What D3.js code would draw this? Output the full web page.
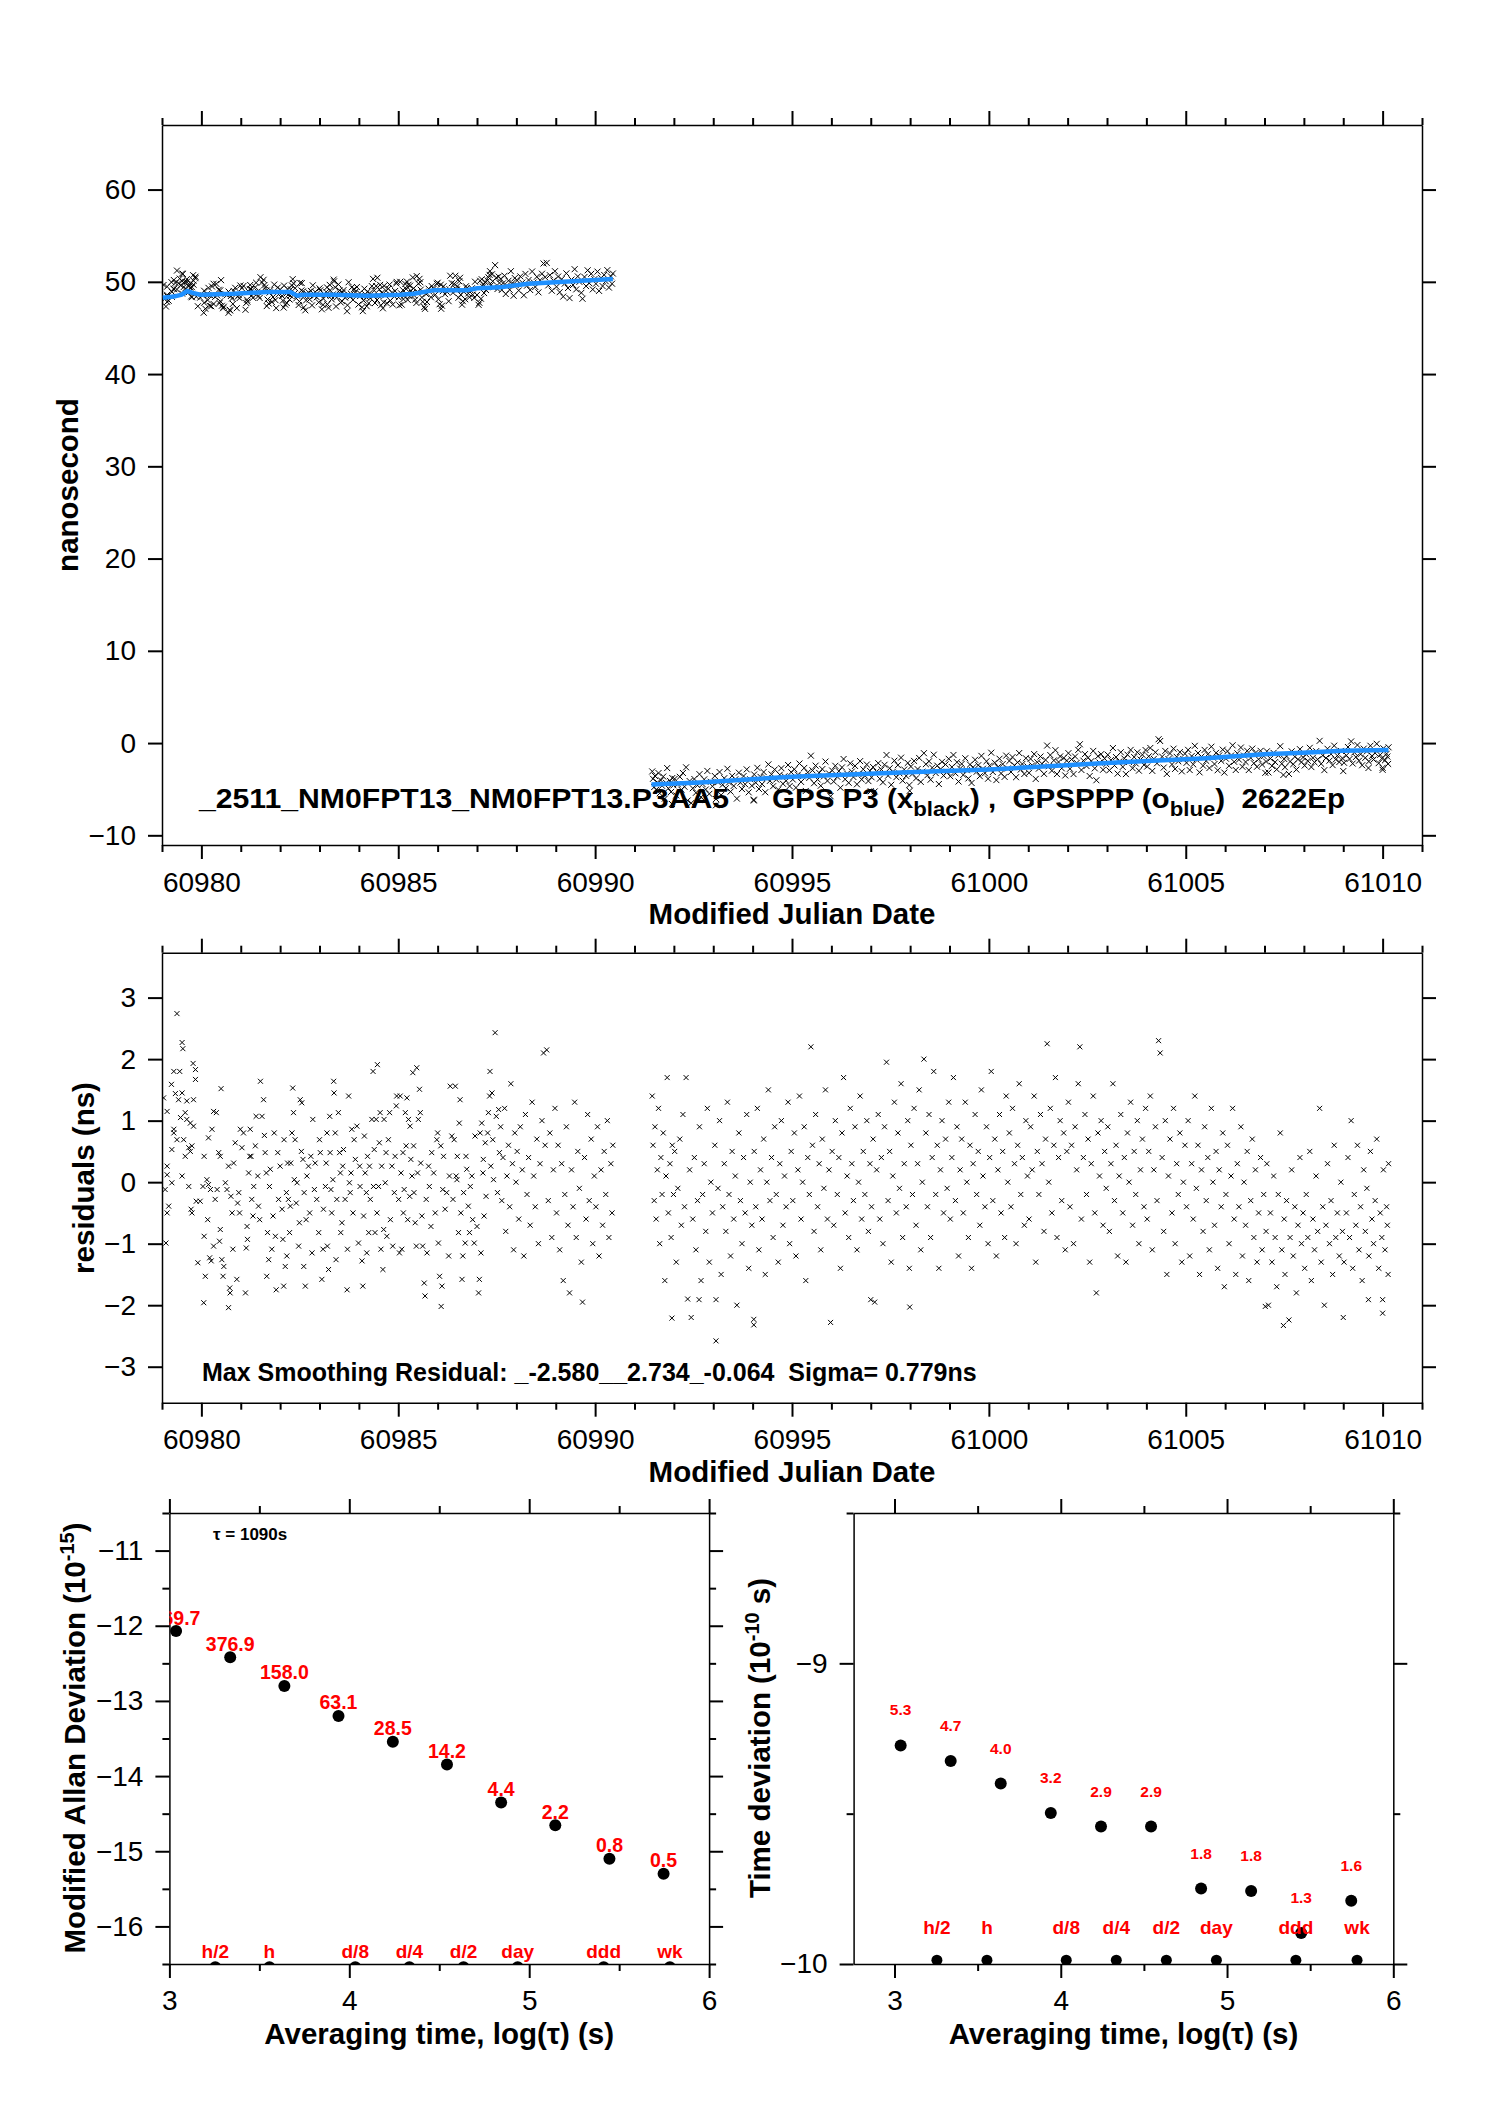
<!DOCTYPE html>
<meta charset="utf-8">
<script src="https://d3js.org/d3.v7.min.js"></script>
<style>
  body { margin: 0; background: #fff; }
  text { font-family: "Liberation Sans", Arial, Helvetica, sans-serif; }
</style>
<svg id="chart" width="1488" height="2105"></svg>
<script>

// ---------- data ----------
const MJD0 = 60900;   // residual times below are MJD - 60900

// GPSPPP smoothing curve (blue), [MJD, ns]
const smoothA = [[60979.02,48.28],[60979.3,48.4],[60979.5,48.6],[60979.64,49.0],[60979.78,48.8],[60979.97,48.6],
  [60980.82,48.7],[60981.67,48.9],[60982.26,48.9],[60982.43,48.5],[60982.6,48.6],[60983.36,48.6],[60984.2,48.5],
  [60985.05,48.6],[60985.4,48.7],[60985.9,49.1],[60986.74,49.1],[60987.0,49.3],[60987.59,49.4],[60988.3,49.8],
  [60989.2,50.0],[60990.45,50.3]];
const smoothB = [[60991.43,-4.48],[60992.66,-4.27],[60995.0,-3.65],[60997.77,-3.18],[61000.0,-2.86],[61002.87,-2.2],
  [61004.14,-1.92],[61005.42,-1.66],[61007.08,-1.19],[61007.97,-1.05],[61008.98,-0.84],[61010.15,-0.76]];

// residuals (GPS P3 minus smoothing), [MJD-60900, ns]
const residA = [
  [79.10,-0.99],[79.04,1.37],[79.13,1.15],[79.08,-0.12],[79.13,0.26],[79.17,-0.39],[79.13,-0.5],[79.24,1.59],[79.30,1.8],
  [79.38,2.74],[79.45,1.8],[79.51,2.27],[79.53,2.17],[79.30,0.8],[79.25,0.53],[79.30,0.86],[79.34,1.44],[79.38,0.69],
  [79.42,1.34],[79.47,1.05],[79.51,1.45],[79.55,0.69],[79.59,1.13],[79.59,0.42],[79.63,1.32],[79.63,1.02],[79.68,0.56],
  [79.72,0.5],[79.79,1.93],[79.85,1.83],[79.85,1.67],[79.76,0.59],[79.80,1.34],[79.72,0.96],[79.51,0.1],[79.25,-0.01],
  [79.13,0.12],[79.68,-0.07],[79.74,-0.44],[79.76,-0.5],[79.87,-0.31],[79.91,-1.31],[79.97,-0.31],[79.80,0.91],
  [80.06,-1.96],[80.07,-0.88],[80.10,-1.53],[80.04,-0.07],[80.14,0.04],[80.18,-0.04],[80.23,-0.12],[80.07,0.42],
  [80.18,0.72],[80.27,0.86],[80.31,1.15],[80.38,1.13],[80.16,-0.61],[80.21,-1.23],[80.25,-1.28],[80.31,-1.04],
  [80.35,-0.28],[80.40,-0.12],[80.44,0.48],[80.48,0.42],[80.50,1.52],[80.48,-0.77],[80.46,-0.96],[80.52,-1.26],
  [80.55,-1.53],[80.57,-1.37],[80.69,-2.04],[80.61,-0.01],[80.65,-0.12],[80.69,0.26],[80.72,-1.72],[80.73,-1.8],
  [80.75,-0.23],[80.78,-0.5],[80.80,-1.09],[80.82,0.31],
  [80.86,0.64],[80.90,-1.58],[80.92,-0.34],[80.95,-0.17],[80.97,-0.5],[80.99,0.86],[81.03,0.56],[81.07,0.8],[81.12,-1.8],
  [81.14,-1.07],[81.16,-0.72],[81.17,-0.93],[81.20,0.15],[81.23,0.42],[81.24,0.86],[81.26,0.42],[81.28,-0.28],
  [81.31,-0.55],[81.33,-0.07],[81.37,0.59],[81.39,1.07],[81.43,0.1],[81.45,-0.39],[81.48,-0.61],[81.50,1.64],
  [81.54,1.07],[81.58,1.34],[81.60,0.76],[81.62,0.48],[81.65,0.15],[81.66,-1.53],[81.68,-0.82],[81.71,-1.26],
  [81.73,-0.07],[81.75,0.21],[81.79,-1.09],[81.82,-0.55],
  [81.85,0.8],[81.88,-0.88],[81.90,-1.75],[81.94,0.48],[81.96,-0.28],[82.00,0.26],[82.05,-0.44],[82.07,-0.93],
  [82.09,-1.69],[82.10,0.69],[82.13,-1.37],[82.16,-0.17],[82.17,-1.2],[82.19,0.31],[82.21,-0.28],[82.24,-0.82],
  [82.26,-0.39],[82.27,0.31],[82.30,0.8],[82.32,1.53],[82.34,1.13],[82.36,0.04],[82.38,0.69],[82.41,-0.34],
  [82.43,-0.01],[82.47,-1.04],[82.49,-0.66],[82.51,1.34],[82.54,0.5],[82.55,1.29],[82.58,0.37],[82.60,-1.37],
  [82.61,-0.17],[82.64,-1.69],[82.66,-0.61],[82.68,0.1],[82.72,0.26],[82.75,-0.5],[82.78,0.42],[82.81,-1.15],[82.83,1.02],
  [82.87,-0.12],[82.89,0.31],[82.93,-0.28],[82.98,-0.82],[83.00,0.69],[83.02,0.48],[83.06,-1.58],[83.09,-1.09],
  [83.10,-0.44],[83.15,-0.07],[83.17,0.31],[83.19,0.8],[83.20,-1.04],[83.23,-1.42],[83.26,1.07],[83.27,0.48],
  [83.29,-0.12],[83.31,-0.5],[83.34,0.04],[83.36,1.64],[83.37,1.45],[83.40,0.8],[83.42,-1.26],[83.44,-0.28],
  [83.48,1.13],[83.51,0.48],[83.53,0.15],[83.54,-0.82],[83.57,-0.66],[83.59,0.26],[83.61,0.53],[83.65,-0.28],
  [83.70,-1.75],[83.71,-1.09],[83.74,1.4],[83.76,-0.01],[83.78,-0.17],[83.80,0.15],[83.82,0.86],[83.85,-0.5],
  [83.88,0.69],[83.91,0.37],[83.95,0.91],[83.99,-0.99],[84.02,0.26],[84.03,-0.07],[84.08,-1.28],[84.10,-1.69],
  [84.12,-0.55],[84.14,0.75],[84.16,0.15],[84.19,-0.17],[84.20,-1.15],[84.22,0.42],[84.25,-0.82],[84.27,0.26],
  [84.29,-0.28],[84.33,1.02],[84.36,1.8],[84.37,-0.07],[84.39,0.53],[84.41,-0.82],[84.44,1.02],[84.46,-0.5],
  [84.47,1.91],[84.50,-0.07],[84.52,0.64],[84.54,1.13],[84.56,-1.09],[84.58,0.26],[84.61,-1.42],[84.63,-0.77],
  [84.64,1.02],[84.67,-0.01],[84.69,0.48],[84.71,-0.88],[84.75,0.69],[84.78,1.13],[84.80,-0.61],[84.84,0.26],[84.86,-1.04],
  [84.90,-0.17],[84.92,0.42],[84.95,1.24],[84.96,1.4],[85.01,-0.28],[85.03,-1.15],[85.05,1.4],[85.07,0.15],
  [85.09,-1.09],[85.12,0.48],[85.13,-0.5],[85.15,-0.12],[85.18,1.13],[85.20,0.59],[85.22,1.37],[85.24,-0.61],
  [85.26,1.02],[85.29,-0.23],[85.30,0.91],[85.32,0.37],[85.35,0.1],[85.37,1.78],[85.39,0.59],[85.40,-0.17],
  [85.43,-0.66],[85.46,-1.04],[85.47,1.86],[85.49,0.15],[85.51,1.02],[85.54,1.51],[85.56,1.13],[85.57,0.31],
  [85.60,-0.55],[85.62,-1.04],[85.66,-1.64],[85.68,-1.85],[85.71,-0.28],[85.73,-1.15],[85.77,0.26],[85.79,-0.07],
  [85.83,-0.72],[85.85,0.48],
  [85.90,0.15],[85.94,-0.5],[85.98,0.69],[86.00,0.8],[86.02,-0.99],[86.05,-1.53],[86.09,-2.02],[86.08,0.59],
  [86.11,-1.69],[86.13,-0.12],[86.15,0.42],[86.19,-0.44],[86.23,-0.17],[86.28,-1.2],[86.30,0.1],[86.32,1.56],
  [86.36,0.75],[86.39,-0.28],[86.42,0.69],[86.45,1.56],[86.47,0.1],[86.49,0.04],[86.50,0.42],[86.53,-0.82],
  [86.55,0.96],[86.57,1.34],[86.59,-0.5],[86.62,-1.58],[86.64,-1.2],[86.66,-0.17],[86.70,-0.99],[86.72,0.42],
  [86.74,0.21],[86.78,-0.39],[86.81,-0.82],[86.83,-0.07],[86.87,0.1],[86.89,-0.61],
  [86.93,-0.99],[86.95,0.75],[87.00,-0.72],[87.04,-1.8],[87.06,-1.58],[87.08,0.8],[87.10,-1.15],[87.12,0.96],
  [87.15,0.15],[87.16,0.37],[87.18,-0.55],[87.21,0.64],[87.23,-0.23],[87.27,0.8],[87.29,1.13],[87.32,1.4],
  [87.33,1.8],[87.35,0.26],[87.38,1.45],[87.40,0.69],[87.42,0.04],[87.46,2.43],[87.49,1.07],[87.52,-0.17],
  [87.55,1.18],[87.57,0.48],
  [87.60,0.9],[87.63,-0.3],[87.66,0.4],[87.70,1.2],[87.73,-0.8],[87.76,0.1],[87.80,0.6],[87.83,-0.4],[87.86,1.6],
  [87.90,0.3],[87.93,-1.1],[87.96,0.8],[87.99,0.0],
  [88.02,0.5],[88.06,-0.6],[88.10,0.9],[88.15,0.2],[88.19,-1.2],[88.23,1.1],[88.27,-0.2],[88.31,0.4],[88.35,-0.7],
  [88.40,1.3],[88.44,0.1],[88.48,-0.4],[88.52,0.7],[88.56,-1.0],[88.60,0.3],[88.65,1.0],[88.69,2.1],[88.73,0.6],
  [88.77,2.15],[88.81,-0.3],[88.85,0.8],[88.90,-0.9],[88.94,0.2],[88.98,1.2],
  [89.02,-0.5],[89.06,0.6],[89.10,-1.1],[89.15,0.3],[89.19,-1.6],[89.23,-0.2],[89.27,0.9],[89.31,-0.7],[89.35,-1.8],
  [89.40,0.2],[89.44,-0.4],[89.48,1.3],[89.52,-0.9],[89.56,0.5],[89.60,-0.1],[89.65,-1.3],[89.68,-1.95],[89.73,0.4],
  [89.77,-0.6],[89.81,1.1],[89.85,-0.3],[89.90,0.7],[89.94,-1.0],[89.98,0.1],
  [90.02,-0.4],[90.06,0.9],[90.10,-1.2],[90.15,0.2],[90.19,-0.7],[90.23,0.5],[90.27,-0.2],[90.31,1.0],[90.35,-0.9],
  [90.40,0.3],[90.43,-0.5],[90.45,0.6]
];
const residB = [
  [91.45,1.4],[91.47,0.6],[91.50,-0.3],[91.52,0.9],[91.55,-0.6],[91.58,0.2],[91.61,1.2],[91.64,-1.0],[91.67,0.4],
  [91.70,-0.2],[91.73,0.8],[91.77,-1.6],[91.80,0.1],[91.83,1.7],[91.86,-0.5],[91.90,0.3],[91.93,-0.9],[91.95,-2.21],
  [91.96,0.6],[91.99,-0.2],
  [92.02,0.5],[92.06,-1.3],[92.10,-0.1],[92.15,0.7],[92.19,-0.7],[92.23,1.1],[92.27,-0.4],[92.31,1.7],[92.35,-1.9],
  [92.40,0.2],[92.44,-2.2],[92.48,-0.6],[92.52,0.4],[92.56,-1.1],[92.60,-0.3],[92.64,-1.91],[92.65,0.9],[92.69,-1.6],
  [92.73,-0.2],[92.77,0.3],[92.81,-0.8],[92.85,1.2],[92.90,-1.3],[92.94,0.0],[92.98,-0.5],
  [93.04,0.6],[93.07,-2.58],[93.07,-1.91],[93.12,-0.1],[93.16,1.0],[93.20,-1.5],[93.24,-0.4],[93.28,0.3],[93.32,-0.8],
  [93.36,1.3],[93.40,-0.2],[93.44,-1.2],[93.48,0.5],[93.52,-0.6],[93.56,0.1],[93.60,-2.0],[93.65,0.8],[93.69,-0.3],
  [93.73,-1.0],[93.77,0.4],[93.81,-0.5],[93.85,1.1],[93.90,-1.4],[93.94,0.0],[93.98,-0.7],
  [94.03,-2.32],[94.03,-2.23],[94.04,0.5],[94.08,-0.4],[94.12,1.2],[94.16,-1.1],[94.20,0.2],[94.24,-0.6],[94.28,0.7],
  [94.32,-1.5],[94.36,0.0],[94.40,1.5],[94.44,-0.3],[94.48,0.4],[94.52,-0.9],[94.56,0.9],[94.60,-0.2],[94.65,-1.3],
  [94.69,0.3],[94.73,1.0],[94.77,-0.7],[94.81,0.1],[94.85,-0.4],[94.90,1.3],[94.94,-1.0],[94.98,0.5],
  [95.02,-0.3],[95.06,0.8],[95.10,-1.2],[95.15,0.2],[95.19,1.4],[95.23,-0.6],[95.27,0.0],[95.31,0.9],[95.35,-1.6],
  [95.40,0.4],[95.44,-0.2],[95.48,2.2],[95.52,0.6],[95.56,-0.8],[95.60,1.1],[95.65,-0.4],[95.69,0.3],[95.73,-1.1],
  [95.77,0.7],[95.81,-0.1],[95.85,1.5],[95.90,-0.6],[95.94,0.2],[95.98,-2.28],
  [96.02,0.5],[96.06,-0.7],[96.10,1.0],[96.15,-0.2],[96.19,0.4],[96.23,-1.4],[96.27,0.8],[96.31,1.7],[96.35,-0.5],
  [96.40,0.1],[96.44,-0.9],[96.48,1.2],[96.52,0.3],[96.56,-0.3],[96.60,0.9],[96.65,-1.1],[96.69,0.0],[96.73,1.4],
  [96.77,-0.6],[96.81,0.5],[96.85,-0.2],[96.90,1.0],[96.94,-0.8],[96.98,0.3],
  [97.00,-1.91],[97.02,-0.4],[97.06,0.7],[97.10,-1.95],[97.15,0.2],[97.19,1.1],[97.23,-0.6],[97.27,0.4],[97.31,-1.0],
  [97.35,0.9],[97.40,1.95],[97.44,-0.3],[97.48,0.5],[97.52,-1.3],[97.56,0.1],[97.60,1.3],[97.65,-0.5],[97.69,0.8],
  [97.73,-0.1],[97.77,1.6],[97.81,-0.9],[97.85,0.3],[97.90,-0.4],[97.94,1.0],[97.98,-1.4],[97.99,-2.03],
  [98.02,0.6],[98.06,-0.2],[98.10,1.2],[98.15,-0.7],[98.19,0.3],[98.23,1.5],[98.27,-1.1],[98.31,0.0],[98.35,2.0],
  [98.40,0.8],[98.44,-0.4],[98.48,1.1],[98.52,-0.9],[98.56,0.4],[98.60,1.8],[98.65,-0.2],[98.69,0.6],[98.73,-1.4],
  [98.77,0.2],[98.81,1.0],[98.85,-0.5],[98.90,0.7],[98.94,-0.1],[98.98,1.3],
  [99.02,-0.6],[99.06,0.4],[99.10,1.7],[99.15,-0.3],[99.19,0.9],[99.23,-1.2],[99.27,0.2],[99.31,0.7],[99.35,-0.5],
  [99.40,1.3],[99.44,0.0],[99.48,-0.9],[99.52,0.6],[99.56,-1.4],[99.60,0.3],[99.65,1.1],[99.69,-0.2],[99.73,0.5],
  [99.77,-0.7],[99.81,1.5],[99.85,0.1],[99.90,-0.4],[99.94,0.9],[99.98,-1.0],
  [100.02,0.4],[100.06,1.8],[100.10,-0.3],[100.15,0.7],[100.19,-1.2],[100.23,0.2],[100.27,1.1],[100.31,-0.5],
  [100.35,0.5],[100.40,-0.9],[100.44,1.4],[100.48,0.0],[100.52,0.8],[100.56,-0.4],[100.60,1.2],[100.65,0.3],
  [100.69,-1.0],[100.73,0.6],[100.77,1.6],[100.81,-0.2],[100.85,0.4],[100.90,-0.7],[100.94,1.0],[100.98,0.1],
  [101.02,-0.6],[101.06,0.9],[101.10,0.2],[101.15,1.4],[101.19,-1.3],[101.23,0.5],[101.27,-0.2],[101.31,1.1],
  [101.35,0.3],[101.40,-0.8],[101.44,0.7],[101.48,2.25],[101.52,0.0],[101.56,1.2],[101.60,-0.5],[101.65,0.6],
  [101.69,1.7],[101.73,-0.9],[101.77,0.4],[101.81,1.0],[101.85,-0.3],[101.90,0.8],[101.94,-1.1],[101.98,0.5],
  [102.02,1.3],[102.06,-0.4],[102.10,0.6],[102.15,-1.0],[102.19,0.9],[102.23,0.2],[102.27,1.6],[102.31,2.2],
  [102.35,-0.6],[102.40,0.4],[102.44,1.1],[102.48,-0.2],[102.52,0.7],[102.56,-1.3],[102.60,0.3],[102.65,1.4],
  [102.69,-0.5],[102.73,-1.8],[102.77,0.8],[102.81,0.1],[102.85,1.0],[102.90,-0.7],[102.94,0.5],[102.98,-0.1],
  [103.02,0.9],[103.06,-0.8],[103.10,0.3],[103.15,1.6],[103.19,-0.3],[103.23,0.6],[103.27,-1.2],[103.31,0.1],
  [103.35,1.1],[103.40,-0.5],[103.44,0.4],[103.48,-1.3],[103.52,0.8],[103.56,0.0],[103.60,1.3],[103.65,-0.7],
  [103.69,0.5],[103.73,-0.2],[103.77,1.0],[103.81,-1.0],[103.85,0.2],[103.90,0.7],[103.94,-0.4],[103.98,1.2],
  [104.02,-0.6],[104.06,0.5],[104.10,1.4],[104.15,-1.1],[104.19,0.2],[104.23,0.9],[104.27,-0.3],[104.31,2.3],
  [104.35,2.1],[104.40,0.4],[104.44,-0.8],[104.48,1.0],[104.52,-1.5],[104.56,0.1],[104.60,0.7],[104.65,-0.5],
  [104.69,1.2],[104.73,-1.0],[104.77,0.3],[104.81,-0.2],[104.85,0.8],[104.90,-1.3],[104.94,0.0],[104.98,0.6],
  [105.02,-0.4],[105.06,1.0],[105.10,-1.2],[105.15,0.3],[105.19,-0.6],[105.23,1.4],[105.27,-0.1],[105.31,0.6],
  [105.35,-1.5],[105.40,0.2],[105.44,-0.8],[105.48,0.9],[105.52,-0.3],[105.56,0.4],[105.60,-1.1],[105.65,1.2],
  [105.69,0.0],[105.73,-0.7],[105.77,0.5],[105.81,-1.4],[105.85,0.2],[105.90,-0.4],[105.94,0.8],[105.98,-1.7],
  [106.02,-0.2],[106.06,0.6],[106.10,-1.0],[106.15,0.1],[106.19,1.2],[106.23,-0.6],[106.27,-1.5],[106.31,0.3],
  [106.35,-0.4],[106.40,0.9],[106.44,-1.2],[106.48,0.0],[106.52,-0.7],[106.56,0.5],[106.60,-1.6],[106.65,-0.3],
  [106.69,0.7],[106.73,-0.9],[106.77,0.2],[106.81,-1.3],[106.85,-0.5],[106.90,0.4],[106.94,-1.1],[106.98,-0.2],
  [107.02,-2.02],[107.04,-0.8],[107.06,0.3],[107.10,-2.0],[107.15,-0.5],[107.19,-1.3],[107.23,0.1],[107.27,-0.9],
  [107.31,-1.7],[107.35,-0.2],[107.40,0.8],[107.44,-1.1],[107.48,-2.33],[107.50,-0.6],[107.52,-1.5],[107.56,-0.3],
  [107.62,-2.24],[107.65,-0.9],[107.69,0.2],[107.73,-1.2],[107.77,-0.4],[107.81,-1.8],[107.85,-0.7],[107.90,0.4],
  [107.94,-1.0],[107.98,-0.5],
  [108.02,-1.4],[108.06,-0.2],[108.10,-0.9],[108.15,0.5],[108.19,-1.6],[108.23,-0.6],[108.27,-1.1],[108.31,0.1],
  [108.35,-0.8],[108.40,1.2],[108.44,-1.3],[108.48,-0.4],[108.52,-2.0],[108.56,-0.7],[108.60,0.3],[108.65,-1.0],
  [108.69,-0.3],[108.73,-1.5],[108.77,0.6],[108.81,-0.9],[108.85,-0.5],[108.90,-1.2],[108.94,0.0],[108.98,-0.8],
  [109.00,-2.2],[109.02,-1.3],[109.08,-0.5],[109.12,0.4],[109.16,-0.9],[109.20,1.0],[109.24,-1.4],[109.28,-0.2],
  [109.32,-0.7],[109.36,0.6],[109.40,-1.1],[109.44,-0.4],[109.48,-1.6],[109.52,0.2],[109.56,-0.8],[109.60,-0.1],
  [109.64,-1.91],[109.65,-1.2],[109.69,0.5],[109.73,-0.6],[109.77,-1.0],[109.81,-0.3],[109.85,0.7],[109.90,-1.4],
  [109.94,-0.5],[109.98,-0.9],
  [110.00,-2.13],[110.00,-1.91],[110.02,0.2],[110.06,-1.1],[110.10,-0.4],[110.12,-0.7],[110.14,-1.5],[110.15,0.3]
];

// stability panels: x = log10(tau)
const tauLog    = [3.037, 3.338, 3.639, 3.940, 4.242, 4.543, 4.844, 5.145, 5.446, 5.747];
const mdevLog   = [-12.07, -12.42, -12.80, -13.20, -13.543, -13.845, -14.35, -14.655, -15.10, -15.30];
const mdevLabel = ["869.7", "376.9", "158.0", "63.1", "28.5", "14.2", "4.4", "2.2", "0.8", "0.5"];
const tdevLog   = [-9.273, -9.325, -9.40, -9.498, -9.543, -9.543, -9.749, -9.757, -9.897, -9.79];
const tdevLabel = ["5.3", "4.7", "4.0", "3.2", "2.9", "2.9", "1.8", "1.8", "1.3", "1.6"];
const spanName  = ["h/2", "h", "d/8", "d/4", "d/2", "day", "ddd", "wk"];
const spanLog   = [3.255, 3.556, 4.033, 4.334, 4.635, 4.936, 5.414, 5.782];

// ---------- drawing ----------
const svg = d3.select("#chart");
const RED = "#ff0000", BLUE = "#1e90ff";

function frame(x, y, o) {
  const [x0, x1] = x.range(), [y0, y1] = y.range();
  const g = svg.append("g");
  const sides = [
    [d3.axisBottom(x), [0, y0], o.xMajor, o.xMinor, o.xFmt, o.xPad],
    [d3.axisTop(x),    [0, y1], o.xMajor, o.xMinor, null, 0],
    [d3.axisLeft(y),   [x0, 0], o.yMajor, o.yMinor, o.yFmt, 12],
    [d3.axisRight(y),  [x1, 0], o.yMajor, o.yMinor, null, 0]
  ];
  sides.forEach(([ax, t, major, minor, fmt, pad]) => {
    const a = g.append("g").attr("transform", `translate(${t})`)
      .call(ax.tickValues(major).tickSize(14).tickSizeOuter(0).tickPadding(pad)
        .tickFormat(fmt || (() => "")));
    a.select(".domain").attr("stroke-width", 1.5);
    a.selectAll(".tick line").attr("stroke-width", 2);
    if (fmt) a.selectAll(".tick text").style("font-size", "28px").attr("fill", "#000");
    else a.selectAll(".tick text").remove();
    if (minor && minor.length) {
      const m = g.append("g").attr("transform", `translate(${t})`)
        .call(ax.tickValues(minor).tickSize(7));
      m.select(".domain").remove();
      m.selectAll(".tick text").remove();
      m.selectAll(".tick line").attr("stroke-width", 2);
    }
  });
  const id = "clip" + Math.round(x0) + "_" + Math.round(y1);
  svg.append("clipPath").attr("id", id).append("rect")
    .attr("x", x0).attr("y", y1).attr("width", x1 - x0).attr("height", y0 - y1);
  return svg.append("g").attr("clip-path", `url(#${id})`);
}

function title(txt, x, y, size, rot) {
  return svg.append("text").attr("text-anchor", "middle")
    .attr("font-weight", "bold").style("font-size", size + "px")
    .attr("transform", `translate(${x},${y})` + (rot ? " rotate(-90)" : ""))
    .text(txt);
}

// rotated title with a superscript, drawn as separate texts centred together
function titleSup(base, sup, tail, cx, cy) {
  const g = svg.append("g").attr("transform", `translate(${cx},${cy}) rotate(-90)`);
  const parts = [[base, 29.5, 0], [sup, 20, -11], [tail, 29.5, 0]];
  const nodes = parts.map(([s, fs, dy]) => g.append("text").attr("font-weight", "bold")
    .style("font-size", fs + "px").style("white-space", "pre").attr("y", dy).text(s));
  const w = nodes.map(n => n.node().getComputedTextLength());
  let pos = -d3.sum(w) / 2;
  nodes.forEach((n, i) => { n.attr("x", pos); pos += w[i]; });
}

const fmtInt = d3.format("d");
const days = d3.range(60979, 61012);
const dayMajor = days.filter(d => d % 5 === 0), dayMinor = days.filter(d => d % 5 !== 0);
const cross = "M-3,-3L3,3M-3,3L3,-3";

// ---- panel 1: time series ----
const x1 = d3.scaleLinear().domain([60979, 61011]).range([162, 1422]);
const y1 = d3.scaleLinear().domain([-11.05, 67.0]).range([845, 125]);
const p1 = frame(x1, y1, { xMajor: dayMajor, xMinor: dayMinor, xFmt: fmtInt, xPad: 12.8,
  yMajor: d3.range(-10, 61, 10), yMinor: [], yFmt: fmtInt });

svg.append("text").attr("x", 199).attr("y", 808).attr("font-weight", "bold")
  .style("font-size", "28px").attr("textLength", 530).attr("lengthAdjust", "spacingAndGlyphs")
  .text("_2511_NM0FPT13_NM0FPT13.P3AA5");
const leg = svg.append("text").attr("x", 772).attr("y", 808).attr("font-weight", "bold")
  .style("font-size", "28px").style("white-space", "pre")
  .attr("textLength", 573).attr("lengthAdjust", "spacingAndGlyphs");
leg.append("tspan").text("GPS P3 (x");
leg.append("tspan").attr("dy", 8).style("font-size", "21px").text("black");
leg.append("tspan").attr("dy", -8).text(") ,  GPSPPP (o");
leg.append("tspan").attr("dy", 8).style("font-size", "21px").text("blue");
leg.append("tspan").attr("dy", -8).text(")  2622Ep");

// raw GPS P3 points = smoothing curve + residual
[[smoothA, residA], [smoothB, residB]].forEach(([sm, rs]) => {
  const trend = d3.scaleLinear().domain(sm.map(d => d[0])).range(sm.map(d => d[1])).clamp(true);
  p1.append("g").selectAll("path").data(rs).join("path")
    .attr("d", cross).attr("fill", "none").attr("stroke", "#000").attr("stroke-width", 1)
    .attr("transform", d => `translate(${x1(MJD0 + d[0])},${y1(trend(MJD0 + d[0]) + d[1])})`);
});
[smoothA, smoothB].forEach(sm => {
  p1.append("path").datum(sm).attr("fill", "none").attr("stroke", BLUE).attr("stroke-width", 4.5)
    .attr("d", d3.line().x(d => x1(d[0])).y(d => y1(d[1])));
});
title("Modified Julian Date", 792, 924, 29.5);
title("nanosecond", 78, 485, 29.5, true);

// ---- panel 2: residuals ----
const x2 = d3.scaleLinear().domain([60979, 61011]).range([162, 1422]);
const y2 = d3.scaleLinear().domain([-3.585, 3.73]).range([1402.7, 952.7]);
const p2 = frame(x2, y2, { xMajor: dayMajor, xMinor: dayMinor, xFmt: fmtInt, xPad: 12.8,
  yMajor: d3.range(-3, 4), yMinor: [], yFmt: fmtInt });
p2.append("g").selectAll("path").data(residA.concat(residB)).join("path")
  .attr("d", "M-2.5,-2.5L2.5,2.5M-2.5,2.5L2.5,-2.5").attr("fill", "none")
  .attr("stroke", "#000").attr("stroke-width", 1)
  .attr("transform", d => `translate(${x2(MJD0 + d[0])},${y2(d[1])})`);
svg.append("text").attr("x", 202).attr("y", 1381).attr("font-weight", "bold")
  .style("font-size", "25px").style("white-space", "pre")
  .text("Max Smoothing Residual: _-2.580__2.734_-0.064  Sigma= 0.779ns");
title("Modified Julian Date", 792, 1482, 29.5);
title("residuals (ns)", 94, 1178, 29.5, true);

// ---- panel 3: modified Allan deviation ----
const x3 = d3.scaleLinear().domain([3, 6]).range([169.4, 709.1]);
const y3 = d3.scaleLinear().domain([-16.5, -10.5]).range([1964, 1513]);
const p3 = frame(x3, y3, { xMajor: [3, 4, 5, 6], xMinor: [3.5, 4.5, 5.5], xFmt: fmtInt, xPad: 12,
  yMajor: d3.range(-16, -10), yMinor: [-16.5, -15.5, -14.5, -13.5, -12.5, -11.5, -10.5], yFmt: fmtInt });
p3.selectAll("circle.pt").data(tauLog).join("circle").attr("class", "pt")
  .attr("cx", d => x3(d)).attr("cy", (d, i) => y3(mdevLog[i])).attr("r", 6).attr("fill", "#000");
p3.selectAll("text.lb").data(tauLog).join("text").attr("class", "lb")
  .attr("x", d => x3(d)).attr("y", (d, i) => y3(mdevLog[i]) - 6.5)
  .attr("text-anchor", "middle").attr("font-weight", "bold").attr("fill", RED)
  .style("font-size", "19.5px").text((d, i) => mdevLabel[i]);
p3.selectAll("circle.sp").data(spanLog).join("circle").attr("class", "sp")
  .attr("cx", d => x3(d)).attr("cy", y3(-16.5) + 3.3).attr("r", 6).attr("fill", "#000");
p3.selectAll("text.sp").data(spanLog).join("text").attr("class", "sp")
  .attr("x", d => x3(d)).attr("y", y3(-16.5) - 6.5)
  .attr("text-anchor", "middle").attr("font-weight", "bold").attr("fill", RED)
  .style("font-size", "19px").text((d, i) => spanName[i]);
svg.append("text").attr("x", 213).attr("y", 1540).attr("font-weight", "bold")
  .style("font-size", "17px").text("\u03c4 = 1090s");
title("Averaging time, log(\u03c4) (s)", 439.2, 2044, 29.5);
titleSup("Modified Allan Deviation (10", "-15", ")", 85, 1738);

// ---- panel 4: time deviation ----
const x4 = d3.scaleLinear().domain([2.754, 6]).range([853.6, 1393.3]);
const y4 = d3.scaleLinear().domain([-10, -8.5]).range([1964, 1513]);
const p4 = frame(x4, y4, { xMajor: [3, 4, 5, 6], xMinor: [3.5, 4.5, 5.5], xFmt: fmtInt, xPad: 12,
  yMajor: [-10, -9], yMinor: [-9.5, -8.5], yFmt: fmtInt });
p4.selectAll("circle.pt").data(tauLog).join("circle").attr("class", "pt")
  .attr("cx", d => x4(d)).attr("cy", (d, i) => y4(tdevLog[i])).attr("r", 6).attr("fill", "#000");
p4.selectAll("text.lb").data(tauLog).join("text").attr("class", "lb")
  .attr("x", d => x4(d)).attr("y", (d, i) => y4(tdevLog[i]) - 30)
  .attr("text-anchor", "middle").attr("font-weight", "bold").attr("fill", RED)
  .style("font-size", "15.5px").text((d, i) => tdevLabel[i]);
p4.selectAll("circle.sp").data(spanLog).join("circle").attr("class", "sp")
  .attr("cx", d => x4(d)).attr("cy", y4(-10) - 3.8).attr("r", 5.5).attr("fill", "#000");
p4.selectAll("text.sp").data(spanLog).join("text").attr("class", "sp")
  .attr("x", d => x4(d)).attr("y", y4(-10) - 30)
  .attr("text-anchor", "middle").attr("font-weight", "bold").attr("fill", RED)
  .style("font-size", "19px").text((d, i) => spanName[i]);
title("Averaging time, log(\u03c4) (s)", 1123.5, 2044, 29.5);
titleSup("Time deviation (10", "-10", " s)", 770, 1738);

</script>
